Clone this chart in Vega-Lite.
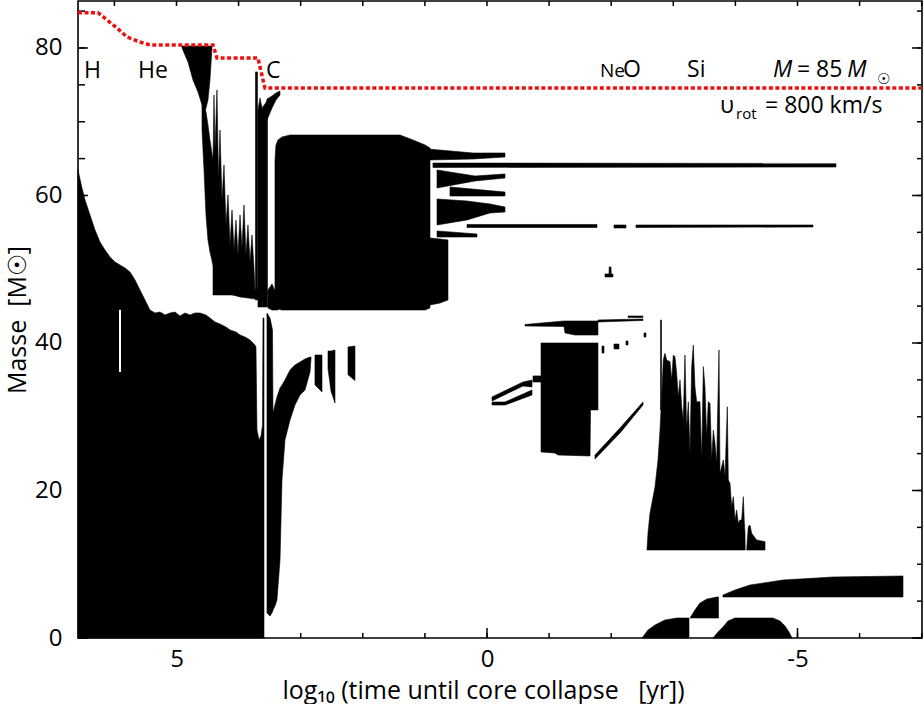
{
"$schema": "https://vega.github.io/schema/vega-lite/v6.json",
"width": 844, "height": 637,
"autosize": {"type": "none"},
"padding": {"left": 78, "top": 1, "right": 2, "bottom": 66},
"background": "white",
"config": {
  "view": {"stroke": "black", "strokeWidth": 1.6},
  "font": "Open Sans",
  "axis": {"domain": false, "grid": false, "ticks": false, "labelFont": "Open Sans", "labelFontSize": 24, "labelColor": "black", "titleFont": "Open Sans", "titleFontSize": 25, "titleFontWeight": "normal", "titleColor": "black"}
},
"resolve": {"axis": {"x": "independent", "y": "independent"}},
"datasets": {
"zones": [
{"id":"H","x":6.586,"lo":0,"hi":63.46},{"id":"H","x":6.522,"lo":0,"hi":61.02},{"id":"H","x":6.473,"lo":0,"hi":59.39},{"id":"H","x":6.393,"lo":0,"hi":57.36},{"id":"H","x":6.312,"lo":0,"hi":55.32},{"id":"H","x":6.232,"lo":0,"hi":53.70},{"id":"H","x":6.151,"lo":0,"hi":52.61},{"id":"H","x":6.071,"lo":0,"hi":51.66},{"id":"H","x":5.990,"lo":0,"hi":50.98},{"id":"H","x":5.910,"lo":0,"hi":50.58},{"id":"H","x":5.829,"lo":0,"hi":50.17},{"id":"H","x":5.749,"lo":0,"hi":49.63},{"id":"H","x":5.668,"lo":0,"hi":48.54},{"id":"H","x":5.588,"lo":0,"hi":47.19},{"id":"H","x":5.507,"lo":0,"hi":45.83},{"id":"H","x":5.427,"lo":0,"hi":44.47},{"id":"H","x":5.346,"lo":0,"hi":44.07},{"id":"H","x":5.266,"lo":0,"hi":44.20},{"id":"H","x":5.185,"lo":0,"hi":43.80},{"id":"H","x":5.105,"lo":0,"hi":44.07},{"id":"H","x":5.024,"lo":0,"hi":44.20},{"id":"H","x":4.944,"lo":0,"hi":43.66},{"id":"H","x":4.863,"lo":0,"hi":44.07},{"id":"H","x":4.783,"lo":0,"hi":43.80},{"id":"H","x":4.702,"lo":0,"hi":44.07},{"id":"H","x":4.622,"lo":0,"hi":44.07},{"id":"H","x":4.525,"lo":0,"hi":43.80},{"id":"H","x":4.461,"lo":0,"hi":43.39},{"id":"H","x":4.380,"lo":0,"hi":42.85},{"id":"H","x":4.300,"lo":0,"hi":42.58},{"id":"H","x":4.203,"lo":0,"hi":42.17},{"id":"H","x":4.138,"lo":0,"hi":41.76},{"id":"H","x":4.042,"lo":0,"hi":41.49},{"id":"H","x":3.977,"lo":0,"hi":41.08},{"id":"H","x":3.897,"lo":0,"hi":40.81},{"id":"H","x":3.816,"lo":0,"hi":40.41},{"id":"H","x":3.736,"lo":0,"hi":39.73},{"id":"H","x":3.720,"lo":0,"hi":39.46},{"id":"H","x":3.704,"lo":0,"hi":28.20},{"id":"H","x":3.671,"lo":0,"hi":26.85},{"id":"H","x":3.639,"lo":0,"hi":27.39},{"id":"H","x":3.615,"lo":0,"hi":28.88},{"id":"H","x":3.607,"lo":0,"hi":43.39},{"id":"H","x":3.591,"lo":0,"hi":43.39},
{"id":"F","x":4.911,"lo":80.0,"hi":80.27},{"id":"F","x":4.815,"lo":78.10,"hi":80.27},{"id":"F","x":4.734,"lo":75.66,"hi":80.27},{"id":"F","x":4.654,"lo":74.03,"hi":80.27},{"id":"F","x":4.589,"lo":72.27,"hi":80.27},{"id":"F","x":4.541,"lo":71.32,"hi":80.27},{"id":"F","x":4.493,"lo":72.95,"hi":80.27},{"id":"F","x":4.461,"lo":75.66,"hi":80.27},{"id":"F","x":4.428,"lo":80.0,"hi":80.27},
{"id":"B","x":4.589,"lo":68.88,"hi":72.27},{"id":"B","x":4.557,"lo":63.46,"hi":71.86},{"id":"B","x":4.525,"lo":57.36,"hi":71.32},{"id":"B","x":4.493,"lo":53.97,"hi":69.56},{"id":"B","x":4.461,"lo":52.34,"hi":67.53},{"id":"B","x":4.412,"lo":50.58,"hi":64.81},{"id":"B","x":4.364,"lo":49.22,"hi":61.42},{"id":"B","x":4.300,"lo":47.86,"hi":55.73},{"id":"B","x":4.219,"lo":47.05,"hi":52.61},{"id":"B","x":4.138,"lo":46.64,"hi":50.17},{"id":"B","x":4.090,"lo":46.51,"hi":48.95},{"id":"B","x":3.977,"lo":46.24,"hi":47.46},{"id":"B","x":3.607,"lo":45.83,"hi":47.19},
{"id":"S","x":4.412,"lo":46.51,"hi":64.81},{"id":"S","x":4.396,"lo":46.51,"hi":73.63},{"id":"S","x":4.380,"lo":46.51,"hi":66.17},{"id":"S","x":4.348,"lo":46.51,"hi":74.31},{"id":"S","x":4.324,"lo":46.51,"hi":62.10},{"id":"S","x":4.300,"lo":46.51,"hi":68.88},{"id":"S","x":4.267,"lo":46.51,"hi":59.39},{"id":"S","x":4.235,"lo":46.51,"hi":64.14},{"id":"S","x":4.203,"lo":46.51,"hi":56.00},{"id":"S","x":4.171,"lo":46.51,"hi":60.07},{"id":"S","x":4.138,"lo":46.51,"hi":53.29},{"id":"S","x":4.106,"lo":46.51,"hi":58.03},{"id":"S","x":4.074,"lo":46.51,"hi":52.61},{"id":"S","x":4.042,"lo":46.51,"hi":56.68},{"id":"S","x":4.010,"lo":46.51,"hi":51.93},{"id":"S","x":3.977,"lo":46.51,"hi":57.36},{"id":"S","x":3.945,"lo":46.51,"hi":52.88},{"id":"S","x":3.913,"lo":46.51,"hi":58.71},{"id":"S","x":3.881,"lo":46.51,"hi":51.93},{"id":"S","x":3.849,"lo":46.51,"hi":56.00},{"id":"S","x":3.816,"lo":46.51,"hi":50.98},{"id":"S","x":3.784,"lo":46.51,"hi":54.64},{"id":"S","x":3.752,"lo":46.51,"hi":50.17},{"id":"S","x":3.736,"lo":46.51,"hi":47.19},
{"id":"V","x":3.728,"lo":45.83,"hi":76.75},{"id":"V","x":3.696,"lo":45.83,"hi":76.75},
{"id":"CF","x":3.688,"lo":44.88,"hi":71.59},{"id":"CF","x":3.655,"lo":44.88,"hi":73.22},{"id":"CF","x":3.623,"lo":44.88,"hi":71.86},{"id":"CF","x":3.575,"lo":44.88,"hi":72.41},{"id":"CF","x":3.535,"lo":44.88,"hi":72.95},
{"id":"P","x":3.543,"lo":70.24,"hi":73.08},{"id":"P","x":3.462,"lo":71.86,"hi":73.49},{"id":"P","x":3.398,"lo":72.95,"hi":73.90},{"id":"P","x":3.333,"lo":73.63,"hi":74.17},
{"id":"CB","x":3.527,"lo":44.75,"hi":47.19},{"id":"CB","x":3.462,"lo":44.47,"hi":48.00},{"id":"CB","x":3.398,"lo":44.47,"hi":46.78},{"id":"CB","x":3.366,"lo":44.47,"hi":45.83},
{"id":"BB","x":3.414,"lo":45.83,"hi":64.81},{"id":"BB","x":3.398,"lo":45.02,"hi":66.85},{"id":"BB","x":3.366,"lo":44.61,"hi":67.53},{"id":"BB","x":3.301,"lo":44.47,"hi":67.93},{"id":"BB","x":3.172,"lo":44.47,"hi":68.20},{"id":"BB","x":1.401,"lo":44.47,"hi":68.20},{"id":"BB","x":1.192,"lo":44.47,"hi":67.53},{"id":"BB","x":0.998,"lo":44.47,"hi":66.85},{"id":"BB","x":0.918,"lo":44.75,"hi":66.44},
{"id":"BB2","x":0.918,"lo":45.15,"hi":54.24},{"id":"BB2","x":0.757,"lo":45.42,"hi":54.10},{"id":"BB2","x":0.628,"lo":45.83,"hi":53.97},
{"id":"F1","x":0.950,"lo":64.81,"hi":66.31},{"id":"F1","x":0.225,"lo":64.95,"hi":65.76},{"id":"F1","x":-0.290,"lo":65.22,"hi":65.76},
{"id":"L1","x":0.870,"lo":63.80,"hi":64.40},{"id":"L1","x":-5.620,"lo":63.86,"hi":64.34},
{"id":"F2","x":0.805,"lo":61.02,"hi":63.46},{"id":"F2","x":0.193,"lo":61.97,"hi":62.64},{"id":"F2","x":-0.290,"lo":62.37,"hi":62.92},
{"id":"F3","x":0.596,"lo":59.93,"hi":61.15},{"id":"F3","x":-0.290,"lo":59.93,"hi":60.47},
{"id":"F4","x":0.805,"lo":56.00,"hi":59.53},{"id":"F4","x":0.322,"lo":56.68,"hi":59.25},{"id":"F4","x":-0.048,"lo":57.63,"hi":58.85},{"id":"F4","x":-0.290,"lo":57.76,"hi":58.44},
{"id":"L2a","x":0.322,"lo":55.66,"hi":56.07},{"id":"L2a","x":-1.771,"lo":55.66,"hi":56.07},
{"id":"L2b","x":-2.045,"lo":55.59,"hi":56.00},{"id":"L2b","x":-2.238,"lo":55.59,"hi":56.00},
{"id":"L2c","x":-2.399,"lo":55.66,"hi":56.00},{"id":"L2c","x":-5.250,"lo":55.73,"hi":56.00},
{"id":"F5","x":0.805,"lo":54.37,"hi":55.19},{"id":"F5","x":0.161,"lo":54.37,"hi":54.78},
{"id":"LS","x":-1.900,"lo":48.95,"hi":49.36},{"id":"LS","x":-1.965,"lo":48.95,"hi":49.36},{"id":"LS","x":-1.968,"lo":48.95,"hi":50.31},{"id":"LS","x":-1.997,"lo":48.95,"hi":50.31},{"id":"LS","x":-2.000,"lo":48.95,"hi":49.36},{"id":"LS","x":-2.029,"lo":48.95,"hi":49.36},
{"id":"W","x":-0.612,"lo":42.31,"hi":42.51},{"id":"W","x":-1.240,"lo":42.24,"hi":42.98},{"id":"W","x":-1.256,"lo":41.36,"hi":42.98},{"id":"W","x":-1.417,"lo":41.08,"hi":42.98},{"id":"W","x":-1.787,"lo":41.08,"hi":42.98},
{"id":"W2","x":-1.787,"lo":42.85,"hi":43.12},{"id":"W2","x":-2.512,"lo":43.05,"hi":43.25},
{"id":"W3","x":-2.271,"lo":43.46,"hi":43.66},{"id":"W3","x":-2.512,"lo":43.46,"hi":43.66},
{"id":"R","x":-0.870,"lo":25.22,"hi":40.0},{"id":"R","x":-1.095,"lo":25.08,"hi":40.0},{"id":"R","x":-1.143,"lo":24.81,"hi":40.0},{"id":"R","x":-1.659,"lo":24.68,"hi":40.0},{"id":"R","x":-1.667,"lo":30.92,"hi":40.0},{"id":"R","x":-1.787,"lo":30.92,"hi":40.0},
{"id":"S2","x":-0.741,"lo":34.71,"hi":35.53},{"id":"S2","x":-0.870,"lo":34.71,"hi":35.53},
{"id":"LW1","x":-0.081,"lo":32.14,"hi":32.68},{"id":"LW1","x":-0.580,"lo":34.17,"hi":34.71},{"id":"LW1","x":-0.725,"lo":34.03,"hi":34.98},
{"id":"LW2","x":-0.081,"lo":31.59,"hi":32.00},{"id":"LW2","x":-0.290,"lo":31.59,"hi":32.00},{"id":"LW2","x":-0.725,"lo":32.95,"hi":33.63},
{"id":"D","x":-1.739,"lo":24.27,"hi":24.81},{"id":"D","x":-2.142,"lo":27.80,"hi":28.47},{"id":"D","x":-2.512,"lo":31.59,"hi":32.00},
{"id":"d1","x":-1.852,"lo":38.64,"hi":39.59},{"id":"d1","x":-1.884,"lo":38.64,"hi":39.59},
{"id":"d2","x":-2.045,"lo":39.19,"hi":39.86},{"id":"d2","x":-2.126,"lo":39.19,"hi":39.86},
{"id":"d3","x":-2.238,"lo":39.73,"hi":40.27},{"id":"d3","x":-2.271,"lo":39.73,"hi":40.27},
{"id":"d4","x":-2.528,"lo":40.81,"hi":41.36},{"id":"d4","x":-2.560,"lo":40.81,"hi":41.36},
{"id":"SiL","x":-2.794,"lo":30.92,"hi":43.12},{"id":"SiL","x":-2.810,"lo":30.92,"hi":43.12},
{"id":"Si","x":-2.576,"lo":11.93,"hi":11.93},{"id":"Si","x":-2.593,"lo":11.93,"hi":14.24},{"id":"Si","x":-2.625,"lo":11.93,"hi":16.95},{"id":"Si","x":-2.705,"lo":11.93,"hi":20.47},{"id":"Si","x":-2.754,"lo":11.93,"hi":24.14},{"id":"Si","x":-2.786,"lo":11.93,"hi":28.20},{"id":"Si","x":-2.813,"lo":11.93,"hi":32.72},{"id":"Si","x":-2.839,"lo":11.93,"hi":37.69},{"id":"Si","x":-2.866,"lo":11.93,"hi":38.60},{"id":"Si","x":-2.893,"lo":11.93,"hi":37.69},{"id":"Si","x":-2.947,"lo":11.93,"hi":37.47},{"id":"Si","x":-2.974,"lo":11.93,"hi":34.98},{"id":"Si","x":-3.000,"lo":11.93,"hi":38.37},{"id":"Si","x":-3.027,"lo":11.93,"hi":38.14},{"id":"Si","x":-3.054,"lo":11.93,"hi":35.89},{"id":"Si","x":-3.081,"lo":11.93,"hi":32.72},{"id":"Si","x":-3.108,"lo":11.93,"hi":34.98},{"id":"Si","x":-3.135,"lo":11.93,"hi":31.36},{"id":"Si","x":-3.161,"lo":11.93,"hi":29.56},{"id":"Si","x":-3.188,"lo":11.93,"hi":38.37},{"id":"Si","x":-3.215,"lo":11.93,"hi":28.20},{"id":"Si","x":-3.242,"lo":11.93,"hi":32.04},{"id":"Si","x":-3.269,"lo":11.93,"hi":25.04},{"id":"Si","x":-3.296,"lo":11.93,"hi":36.79},{"id":"Si","x":-3.322,"lo":11.93,"hi":39.73},{"id":"Si","x":-3.349,"lo":11.93,"hi":34.07},{"id":"Si","x":-3.376,"lo":11.93,"hi":32.04},{"id":"Si","x":-3.403,"lo":11.93,"hi":32.04},{"id":"Si","x":-3.430,"lo":11.93,"hi":32.04},{"id":"Si","x":-3.457,"lo":11.93,"hi":24.14},{"id":"Si","x":-3.484,"lo":11.93,"hi":36.79},{"id":"Si","x":-3.510,"lo":11.93,"hi":34.07},{"id":"Si","x":-3.537,"lo":11.93,"hi":27.30},{"id":"Si","x":-3.564,"lo":11.93,"hi":32.04},{"id":"Si","x":-3.591,"lo":11.93,"hi":31.82},{"id":"Si","x":-3.618,"lo":11.93,"hi":24.14},{"id":"Si","x":-3.645,"lo":11.93,"hi":28.20},{"id":"Si","x":-3.671,"lo":11.93,"hi":26.40},{"id":"Si","x":-3.698,"lo":11.93,"hi":23.69},{"id":"Si","x":-3.736,"lo":11.93,"hi":39.05},{"id":"Si","x":-3.752,"lo":11.93,"hi":22.33},{"id":"Si","x":-3.779,"lo":11.93,"hi":23.23},{"id":"Si","x":-3.806,"lo":11.93,"hi":24.14},{"id":"Si","x":-3.833,"lo":11.93,"hi":21.87},{"id":"Si","x":-3.870,"lo":11.93,"hi":31.36},{"id":"Si","x":-3.886,"lo":11.93,"hi":21.42},{"id":"Si","x":-3.913,"lo":11.93,"hi":20.98},{"id":"Si","x":-3.940,"lo":11.93,"hi":17.80},{"id":"Si","x":-3.967,"lo":11.93,"hi":19.16},{"id":"Si","x":-3.994,"lo":11.93,"hi":16.00},{"id":"Si","x":-4.020,"lo":11.93,"hi":17.36},{"id":"Si","x":-4.047,"lo":11.93,"hi":15.55},{"id":"Si","x":-4.074,"lo":11.93,"hi":16.00},{"id":"Si","x":-4.101,"lo":11.93,"hi":16.00},{"id":"Si","x":-4.128,"lo":11.93,"hi":19.16},{"id":"Si","x":-4.144,"lo":11.93,"hi":15.55},{"id":"Si","x":-4.155,"lo":11.93,"hi":14.20},{"id":"Si","x":-4.157,"lo":11.93,"hi":11.93},
{"id":"SiB","x":-4.181,"lo":11.93,"hi":11.93},{"id":"SiB","x":-4.208,"lo":11.93,"hi":15.09},{"id":"SiB","x":-4.235,"lo":11.93,"hi":15.32},{"id":"SiB","x":-4.262,"lo":11.93,"hi":14.20},{"id":"SiB","x":-4.342,"lo":11.93,"hi":13.29},{"id":"SiB","x":-4.477,"lo":11.93,"hi":13.06},
{"id":"CC","x":3.543,"lo":3.39,"hi":44.07},{"id":"CC","x":3.494,"lo":2.98,"hi":43.39},{"id":"CC","x":3.454,"lo":3.53,"hi":41.76},{"id":"CC","x":3.446,"lo":3.80,"hi":30.51},{"id":"CC","x":3.414,"lo":4.34,"hi":31.59},{"id":"CC","x":3.382,"lo":5.15,"hi":32.68},{"id":"CC","x":3.333,"lo":10.58,"hi":33.90},{"id":"CC","x":3.301,"lo":21.42,"hi":34.31},{"id":"CC","x":3.253,"lo":26.85,"hi":34.98},{"id":"CC","x":3.172,"lo":29.56,"hi":36.34},{"id":"CC","x":3.092,"lo":31.59,"hi":37.02},{"id":"CC","x":3.011,"lo":32.95,"hi":37.42},{"id":"CC","x":2.931,"lo":33.63,"hi":37.83},{"id":"CC","x":2.850,"lo":36.07,"hi":38.10},{"id":"CC","x":2.834,"lo":37.80,"hi":38.10},
{"id":"T1","x":2.770,"lo":34.31,"hi":38.37},{"id":"T1","x":2.657,"lo":33.36,"hi":38.37},
{"id":"T2","x":2.560,"lo":36.5,"hi":38.92},{"id":"T2","x":2.512,"lo":33.5,"hi":38.9},{"id":"T2","x":2.448,"lo":31.86,"hi":39.05},
{"id":"T3","x":2.238,"lo":35.7,"hi":39.46},{"id":"T3","x":2.126,"lo":34.9,"hi":39.59},
{"id":"A","x":-2.496,"lo":0,"hi":0},{"id":"A","x":-2.593,"lo":0,"hi":1.08},{"id":"A","x":-2.705,"lo":0,"hi":1.76},{"id":"A","x":-2.866,"lo":0,"hi":2.44},{"id":"A","x":-3.060,"lo":0,"hi":2.71},{"id":"A","x":-3.253,"lo":0,"hi":2.71},
{"id":"Bq","x":-3.269,"lo":2.71,"hi":2.71},{"id":"Bq","x":-3.349,"lo":2.71,"hi":3.80},{"id":"Bq","x":-3.430,"lo":2.71,"hi":4.75},{"id":"Bq","x":-3.543,"lo":2.71,"hi":5.29},{"id":"Bq","x":-3.704,"lo":2.71,"hi":5.56},{"id":"Bq","x":-3.728,"lo":2.71,"hi":5.56},
{"id":"Cb","x":-3.800,"lo":5.56,"hi":5.83},{"id":"Cb","x":-3.994,"lo":5.56,"hi":6.51},{"id":"Cb","x":-4.235,"lo":5.56,"hi":7.19},{"id":"Cb","x":-4.767,"lo":5.56,"hi":7.86},{"id":"Cb","x":-5.572,"lo":5.56,"hi":8.27},{"id":"Cb","x":-6.699,"lo":5.56,"hi":8.41},
{"id":"Dq","x":-3.639,"lo":0,"hi":0},{"id":"Dq","x":-3.720,"lo":0,"hi":0.81},{"id":"Dq","x":-3.800,"lo":0,"hi":1.49},{"id":"Dq","x":-3.881,"lo":0,"hi":2.31},{"id":"Dq","x":-3.994,"lo":0,"hi":2.71},{"id":"Dq","x":-4.605,"lo":0,"hi":2.71},{"id":"Dq","x":-4.718,"lo":0,"hi":2.31},{"id":"Dq","x":-4.799,"lo":0,"hi":1.63},{"id":"Dq","x":-4.863,"lo":0,"hi":0.81},{"id":"Dq","x":-4.911,"lo":0,"hi":0}
],
"gaps": [
{"id":"g1","x":5.926,"lo":36.07,"hi":44.5},{"id":"g1","x":5.894,"lo":36.07,"hi":44.5}
],
"mass": [
{"x":6.586,"y":84.79},{"x":6.264,"y":84.79},{"x":6.119,"y":83.80},{"x":5.958,"y":82.71},{"x":5.797,"y":81.49},{"x":5.588,"y":80.81},{"x":5.427,"y":80.41},{"x":4.412,"y":80.41},{"x":4.348,"y":78.64},{"x":3.688,"y":78.64},{"x":3.655,"y":77.42},{"x":3.607,"y":75.66},{"x":3.575,"y":74.58},{"x":-7.005,"y":74.58}
],
"xtick": [{"v":-7},{"v":-6},{"v":-5},{"v":-4},{"v":-3},{"v":-2},{"v":-1},{"v":0},{"v":1},{"v":2},{"v":3},{"v":4},{"v":5},{"v":6}],
"xmajor": [{"v":-5},{"v":0},{"v":5}],
"ytick": [{"v":0},{"v":5},{"v":10},{"v":15},{"v":20},{"v":25},{"v":30},{"v":35},{"v":40},{"v":45},{"v":50},{"v":55},{"v":60},{"v":65},{"v":70},{"v":75},{"v":80},{"v":85}],
"ymajor": [{"v":0},{"v":20},{"v":40},{"v":60},{"v":80}],
"labels": [
{"t":"H","x":6.490,"y":75.93},{"t":"He","x":5.620,"y":75.93},{"t":"C","x":3.560,"y":75.93},{"t":"O","x":-2.190,"y":76.07},{"t":"Si","x":-3.221,"y":76.07},{"t":"= 85","x":-4.992,"y":76.07},{"t":"= 800 km/s","x":-4.477,"y":71.19},{"t":"υ","x":-3.752,"y":71.19}
],
"ital": [
{"t":"M","x":-4.605,"y":76.07},{"t":"M","x":-5.800,"y":76.07}
],
"mid": [
{"t":"Ne","x":-1.820,"y":76.07}
],
"small": [
{"t":"rot","x":-4.010,"y":70.37},{"t":"☉","x":-6.280,"y":75.12}
]
},
"layer": [
{
 "data": {"name": "zones"},
 "mark": {"type": "area", "color": "black", "stroke": "black", "strokeWidth": 0.6, "interpolate": "linear"},
 "encoding": {
  "x": {"field": "x", "type": "quantitative", "scale": {"domain": [-7.005, 6.586], "reverse": true, "nice": false, "zero": false},
        "axis": {"orient": "bottom", "values": [-7,-6,-5,-4,-3,-2,-1,0,1,2,3,4,5,6], "labelExpr": "datum.value == 5 ? '5' : datum.value == 0 ? '0' : datum.value == -5 ? '-5' : ''", "labelPadding": 9, "title": "log₁₀ (time until core collapse\u00a0\u00a0\u00a0[yr])", "titlePadding": 7, "titleX": 405, "titleAnchor": "middle"}},
  "y": {"field": "hi", "type": "quantitative", "scale": {"domain": [0, 86.37], "nice": false, "zero": false},
        "axis": {"orient": "left", "values": [0,20,40,60,80], "labelPadding": 16, "title": "Masse\u00a0\u00a0[M☉]", "titlePadding": 4}},
  "y2": {"field": "lo"},
  "detail": {"field": "id"}
 }
},
{
 "data": {"name": "gaps"},
 "mark": {"type": "area", "color": "white", "interpolate": "linear"},
 "encoding": {
  "x": {"field": "x", "type": "quantitative", "scale": {"domain": [-7.005, 6.586], "reverse": true, "nice": false, "zero": false}, "axis": null},
  "y": {"field": "hi", "type": "quantitative", "scale": {"domain": [0, 86.37], "nice": false, "zero": false}, "axis": null},
  "y2": {"field": "lo"},
  "detail": {"field": "id"}
 }
},
{
 "data": {"name": "xtick"},
 "mark": {"type": "rule", "color": "black", "strokeWidth": 1.5, "y2Offset": -5},
 "encoding": {
  "x": {"field": "v", "type": "quantitative", "scale": {"domain": [-7.005, 6.586], "reverse": true, "nice": false, "zero": false}, "axis": null},
  "y": {"datum": 0, "type": "quantitative", "scale": {"domain": [0, 86.37], "nice": false, "zero": false}, "axis": null},
  "y2": {"datum": 0}
 }
},
{
 "data": {"name": "xmajor"},
 "mark": {"type": "rule", "color": "black", "strokeWidth": 1.5, "y2Offset": -10},
 "encoding": {
  "x": {"field": "v", "type": "quantitative", "scale": {"domain": [-7.005, 6.586], "reverse": true, "nice": false, "zero": false}, "axis": null},
  "y": {"datum": 0, "type": "quantitative", "scale": {"domain": [0, 86.37], "nice": false, "zero": false}, "axis": null},
  "y2": {"datum": 0}
 }
},
{
 "data": {"name": "xtick"},
 "mark": {"type": "rule", "color": "black", "strokeWidth": 1.5, "y2Offset": 5},
 "encoding": {
  "x": {"field": "v", "type": "quantitative", "scale": {"domain": [-7.005, 6.586], "reverse": true, "nice": false, "zero": false}, "axis": null},
  "y": {"datum": 86.37, "type": "quantitative", "scale": {"domain": [0, 86.37], "nice": false, "zero": false}, "axis": null},
  "y2": {"datum": 86.37}
 }
},
{
 "data": {"name": "ytick"},
 "mark": {"type": "rule", "color": "black", "strokeWidth": 1.5, "x2Offset": 7},
 "encoding": {
  "y": {"field": "v", "type": "quantitative", "scale": {"domain": [0, 86.37], "nice": false, "zero": false}, "axis": null},
  "x": {"datum": 6.586, "type": "quantitative", "scale": {"domain": [-7.005, 6.586], "reverse": true, "nice": false, "zero": false}, "axis": null},
  "x2": {"datum": 6.586}
 }
},
{
 "data": {"name": "ymajor"},
 "mark": {"type": "rule", "color": "black", "strokeWidth": 1.5, "x2Offset": 10},
 "encoding": {
  "y": {"field": "v", "type": "quantitative", "scale": {"domain": [0, 86.37], "nice": false, "zero": false}, "axis": null},
  "x": {"datum": 6.586, "type": "quantitative", "scale": {"domain": [-7.005, 6.586], "reverse": true, "nice": false, "zero": false}, "axis": null},
  "x2": {"datum": 6.586}
 }
},
{
 "data": {"name": "ytick"},
 "mark": {"type": "rule", "color": "black", "strokeWidth": 1.5, "x2Offset": -5},
 "encoding": {
  "y": {"field": "v", "type": "quantitative", "scale": {"domain": [0, 86.37], "nice": false, "zero": false}, "axis": null},
  "x": {"datum": -7.005, "type": "quantitative", "scale": {"domain": [-7.005, 6.586], "reverse": true, "nice": false, "zero": false}, "axis": null},
  "x2": {"datum": -7.005}
 }
},
{
 "data": {"name": "ymajor"},
 "mark": {"type": "rule", "color": "black", "strokeWidth": 1.5, "x2Offset": -10},
 "encoding": {
  "y": {"field": "v", "type": "quantitative", "scale": {"domain": [0, 86.37], "nice": false, "zero": false}, "axis": null},
  "x": {"datum": -7.005, "type": "quantitative", "scale": {"domain": [-7.005, 6.586], "reverse": true, "nice": false, "zero": false}, "axis": null},
  "x2": {"datum": -7.005}
 }
},
{
 "data": {"name": "mass"},
 "mark": {"type": "line", "color": "#ee1111", "strokeWidth": 3.5, "strokeDash": [4, 2.5], "interpolate": "linear"},
 "encoding": {
  "x": {"field": "x", "type": "quantitative", "sort": null, "scale": {"domain": [-7.005, 6.586], "reverse": true, "nice": false, "zero": false}, "axis": null},
  "y": {"field": "y", "type": "quantitative", "scale": {"domain": [0, 86.37], "nice": false, "zero": false}, "axis": null}
 }
},
{
 "data": {"name": "labels"},
 "mark": {"type": "text", "font": "Open Sans", "fontSize": 23, "align": "left", "baseline": "alphabetic", "color": "black"},
 "encoding": {
  "x": {"field": "x", "type": "quantitative", "scale": {"domain": [-7.005, 6.586], "reverse": true, "nice": false, "zero": false}, "axis": null},
  "y": {"field": "y", "type": "quantitative", "scale": {"domain": [0, 86.37], "nice": false, "zero": false}, "axis": null},
  "text": {"field": "t"}
 }
},
{
 "data": {"name": "ital"},
 "mark": {"type": "text", "font": "Open Sans", "fontSize": 23, "fontStyle": "italic", "align": "left", "baseline": "alphabetic", "color": "black"},
 "encoding": {
  "x": {"field": "x", "type": "quantitative", "scale": {"domain": [-7.005, 6.586], "reverse": true, "nice": false, "zero": false}, "axis": null},
  "y": {"field": "y", "type": "quantitative", "scale": {"domain": [0, 86.37], "nice": false, "zero": false}, "axis": null},
  "text": {"field": "t"}
 }
},
{
 "data": {"name": "mid"},
 "mark": {"type": "text", "font": "Open Sans", "fontSize": 19, "align": "left", "baseline": "alphabetic", "color": "black"},
 "encoding": {
  "x": {"field": "x", "type": "quantitative", "scale": {"domain": [-7.005, 6.586], "reverse": true, "nice": false, "zero": false}, "axis": null},
  "y": {"field": "y", "type": "quantitative", "scale": {"domain": [0, 86.37], "nice": false, "zero": false}, "axis": null},
  "text": {"field": "t"}
 }
},
{
 "data": {"name": "small"},
 "mark": {"type": "text", "font": "Open Sans", "fontSize": 15, "align": "left", "baseline": "alphabetic", "color": "black"},
 "encoding": {
  "x": {"field": "x", "type": "quantitative", "scale": {"domain": [-7.005, 6.586], "reverse": true, "nice": false, "zero": false}, "axis": null},
  "y": {"field": "y", "type": "quantitative", "scale": {"domain": [0, 86.37], "nice": false, "zero": false}, "axis": null},
  "text": {"field": "t"}
 }
}
]
}
